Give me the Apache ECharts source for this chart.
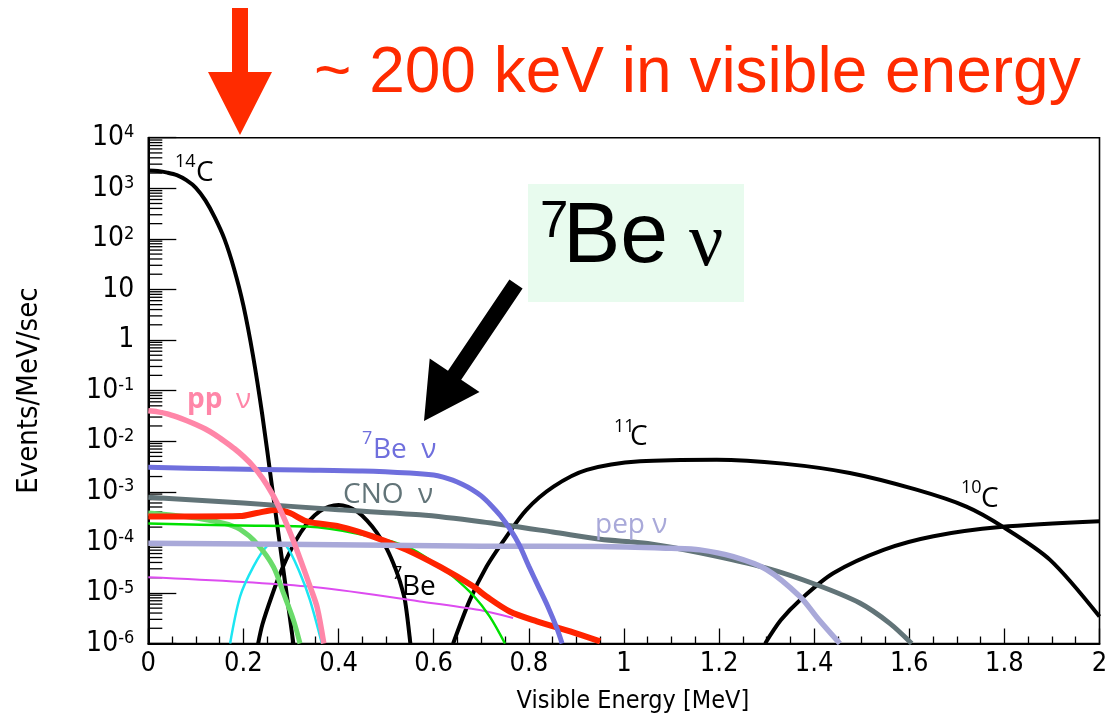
<!DOCTYPE html>
<html><head><meta charset="utf-8">
<script src="https://cdn.jsdelivr.net/npm/echarts@6/dist/echarts.min.js"></script>
<style>html,body{margin:0;padding:0;background:#fff;}#c{width:1113px;height:721px;}</style>
</head><body><div id="c"></div>
<script>
// ---- data (Visible Energy [MeV], Events/MeV/sec) ----
const c14 = [[0,2240],[0.02,2190],[0.04,2040],[0.06,1820],[0.08,1445],[0.1,1023],[0.12,575],[0.14,263],[0.16,100],[0.18,26.3],[0.2,4.79],[0.22,0.50],[0.24,0.0316],[0.26,1.29e-3],[0.28,5.37e-5],[0.3,2.24e-6],[0.305,1e-6]];
const po210 = [[0.231,1e-6],[0.24,2.4e-6],[0.26,8.9e-6],[0.28,2.8e-5],[0.3,7.2e-5],[0.32,1.55e-4],[0.34,2.75e-4],[0.36,4.1e-4],[0.38,5.1e-4],[0.4,5.5e-4],[0.42,5.0e-4],[0.44,4.0e-4],[0.46,2.7e-4],[0.48,1.58e-4],[0.5,7.9e-5],[0.51,5.0e-5],[0.52,2.95e-5],[0.53,1.58e-5],[0.54,6.8e-6],[0.551,1e-6]];
const c11 = [[0.641,1e-6],[0.676,7.2e-6],[0.711,3.3e-5],[0.753,1.3e-4],[0.795,4.4e-4],[0.852,1.26e-3],[0.922,2.7e-3],[1.034,4.0e-3],[1.195,4.3e-3],[1.335,3.6e-3],[1.475,2.35e-3],[1.615,1.1e-3],[1.72,5.1e-4],[1.798,2.0e-4],[1.896,4.5e-5],[2.0,3.4e-6]];
const c10 = [[1.297,1e-6],[1.33,2.9e-6],[1.37,7.2e-6],[1.44,2.45e-5],[1.546,7.1e-5],[1.651,1.32e-4],[1.791,2.0e-4],[2.0,2.6e-4]];
const ppNu = [[0,0.0398],[0.02,0.0380],[0.04,0.0347],[0.06,0.0302],[0.08,0.0257],[0.1,0.0214],[0.12,0.0174],[0.14,0.0135],[0.16,0.0100],[0.18,0.00724],[0.2,0.00501],[0.22,0.00324],[0.24,0.00186],[0.26,9.3e-4],[0.28,3.9e-4],[0.3,1.41e-4],[0.32,4.5e-5],[0.34,1.35e-5],[0.355,5.2e-6],[0.369,1e-6]];
const be7Nu = [[0,3.05e-3],[0.15,2.85e-3],[0.32,2.69e-3],[0.45,2.57e-3],[0.55,2.34e-3],[0.6,2.14e-3],[0.62,1.95e-3],[0.64,1.70e-3],[0.66,1.41e-3],[0.68,1.12e-3],[0.7,8.3e-4],[0.72,5.5e-4],[0.74,3.39e-4],[0.76,1.86e-4],[0.78,8.9e-5],[0.8,3.39e-5],[0.82,1.35e-5],[0.84,5.4e-6],[0.86,1.9e-6],[0.87,1e-6]];
const cnoNu = [[0,7.8e-4],[0.2,6.0e-4],[0.4,4.4e-4],[0.571,3.5e-4],[0.7,2.55e-4],[0.85,1.6e-4],[0.95,1.15e-4],[1.05,9.5e-5],[1.16,6.2e-5],[1.3,3.1e-5],[1.405,1.45e-5],[1.496,6.3e-6],[1.559,2.5e-6],[1.605,1e-6]];
const pepNu = [[0,9.6e-5],[0.5,8.8e-5],[0.7,8.4e-5],[0.95,8.3e-5],[1.1,7.6e-5],[1.16,7.1e-5],[1.23,5.2e-5],[1.3,2.9e-5],[1.37,8.5e-6],[1.41,2.95e-6],[1.454,1e-6]];
const redTot = [[0,3.25e-4],[0.1,3.25e-4],[0.193,3.3e-4],[0.228,3.8e-4],[0.27,4.4e-4],[0.298,3.8e-4],[0.333,2.6e-4],[0.403,2.05e-4],[0.473,1.3e-4],[0.543,7.1e-5],[0.613,3.3e-5],[0.683,1.35e-5],[0.711,8.5e-6],[0.76,4.3e-6],[0.817,2.75e-6],[0.887,1.74e-6],[0.95,1.1e-6]];
const greenA = [[0,2.35e-4],[0.193,2.15e-4],[0.333,2.05e-4],[0.438,1.5e-4],[0.543,8.3e-5],[0.613,3.3e-5],[0.641,2.1e-5],[0.683,9e-6],[0.718,3.4e-6],[0.75,1e-6]];
const greenB = [[0,3.8e-4],[0.08,3.2e-4],[0.158,2.4e-4],[0.193,1.8e-4],[0.228,9.5e-5],[0.263,3.3e-5],[0.284,1e-5],[0.305,2.95e-6],[0.319,1e-6]];
const cyanC = [[0.172,1e-6],[0.193,8.5e-6],[0.221,3.3e-5],[0.249,8.3e-5],[0.27,9.5e-5],[0.291,8.3e-5],[0.319,2.45e-5],[0.34,7.2e-6],[0.365,1e-6]];
const magentaC = [[0,2.05e-5],[0.333,1.35e-5],[0.571,6.8e-6],[0.697,4.6e-6],[0.767,3.2e-6]];
const yMinorTicks = [];
for (let d = -6; d <= 3; d++) for (let m = 2; m <= 9; m++) yMinorTicks.push(m * Math.pow(10, d));

const narrow = '"Liberation Sans Narrow","DejaVu Sans Condensed","Liberation Sans",sans-serif';
const myriad = '"Open Sans","DejaVu Sans",sans-serif';
const helv = '"Liberation Sans",Arial,sans-serif';

function ln(name, data, color, width) {
  return {type:'line', name, data, showSymbol:false, smooth:0.3, silent:true, clip:true,
    lineStyle:{color, width}, itemStyle:{color}};
}

// annotation texts (pixel positions; x = left edge, y = middle)
const texts = [
  ['14',175,161.5,18,'#000','normal',myriad],
  ['C',196,173,28,'#000','normal',myriad],
  ['pp',187,400,28,'#FF86A8','bold',myriad],
  ['ν',236,400,28,'#FF86A8','normal',myriad],
  ['7',362,439,18,'#6F6FDD','normal',myriad],
  ['Be  ν',373,450,28,'#6F6FDD','normal',myriad],
  ['CNO  ν',343,495,28,'#627478','normal',myriad],
  ['pep ν',595,525,28,'#A9A9D9','normal',myriad],
  ['7',392,574,18,'#000','normal',myriad],
  ['Be',402,587,28,'#000','normal',myriad],
  ['11',614,426.5,18,'#000','normal',myriad],
  ['C',630,437.5,28,'#000','normal',myriad],
  ['10',961,488,18,'#000','normal',myriad],
  ['C',981,499,28,'#000','normal',myriad]
];

const chart = echarts.init(document.getElementById('c'), null, {renderer:'canvas'});
const graphic = [
  {type:'polygon', shape:{points:[[232,8],[248,8],[248,72],[272,72],[240,135],[208,72],[232,72]]}, style:{fill:'#FF2B00'}, z:10},
  {type:'text', x:314, y:74, style:{text:'~ 200 keV in visible energy', fontSize:64, fontFamily:helv, fill:'#FF2B00', textAlign:'left', textVerticalAlign:'middle'}, z:10},
  {type:'rect', shape:{x:528,y:184,width:216,height:118}, style:{fill:'#E8FBEE'}, z:5},
  {type:'text', x:540, y:223, style:{text:'7', fontSize:51, fontFamily:helv, fill:'#000', textAlign:'left', textVerticalAlign:'middle'}, z:10},
  {type:'text', x:563, y:238, style:{text:'Be', fontSize:86, fontFamily:helv, fill:'#000', textAlign:'left', textVerticalAlign:'middle'}, z:10},
  {type:'text', x:689, y:245, style:{text:'ν', fontSize:76, fontFamily:'"Liberation Serif","Times New Roman",serif', fill:'#000', textAlign:'left', textVerticalAlign:'middle'}, z:10},
  {type:'polygon', shape:{points:[[522.6,288.5],[461.2,379.8],[479.5,392],[424,421],[429.7,358.6],[448,370.8],[509.4,279.5]]}, style:{fill:'#000'}, z:10}
];
texts.forEach(t => graphic.push({type:'text', x:t[1], y:t[2], style:{text:t[0], fontSize:t[3], fill:t[4], fontWeight:t[5], fontFamily:t[6], textAlign:'left', textVerticalAlign:'middle'}, z:10}));

chart.setOption({
  animation:false,
  backgroundColor:'#fff',
  grid:{left:148.3, right:13.5, top:137.7, bottom:77.5, show:true, borderColor:'#000', borderWidth:1.6, backgroundColor:'transparent'},
  xAxis:{type:'value', min:0, max:2, interval:0.2,
    axisLine:{show:true, lineStyle:{color:'#000', width:2}},
    axisTick:{show:true, inside:true, length:15, lineStyle:{color:'#000', width:1.3}},
    minorTick:{show:true, splitNumber:4, length:7, lineStyle:{color:'#000', width:1.3}},
    splitLine:{show:false},
    axisLabel:{color:'#000', fontSize:27, fontFamily:narrow, margin:7},
    name:'Visible Energy [MeV]', nameLocation:'middle', nameGap:45,
    nameTextStyle:{color:'#000', fontSize:25, fontFamily:narrow, padding:[0,0,0,18]}},
  yAxis:{type:'log', logBase:10, min:1e-6, max:1e4, interval:1,
    axisLine:{show:true, lineStyle:{color:'#000', width:2}},
    axisTick:{show:true, inside:true, length:28, lineStyle:{color:'#000', width:1.3}},
    splitLine:{show:false},
    axisLabel:{margin:14, color:'#000', showMinLabel:true, showMaxLabel:true,
      formatter: v => { const e = Math.round(Math.log10(v)); if (e === 0) return '{b|1}'; if (e === 1) return '{b|10}'; return '{b|10}{s|' + e + '}'; },
      rich:{ b:{fontSize:28, lineHeight:28, fontFamily:narrow, color:'#000', verticalAlign:'bottom'},
             s:{fontSize:18, lineHeight:18, fontFamily:narrow, color:'#000', verticalAlign:'top', padding:[0,0,16,0]} }},
    name:'Events/MeV/sec', nameLocation:'middle', nameGap:104, nameRotate:90,
    nameTextStyle:{color:'#000', fontSize:29, fontFamily:narrow}},
  series:[
    {type:'custom', silent:true, clip:false, data: yMinorTicks.map(v => [0, v]),
      renderItem:(params, api) => { const p = api.coord([api.value(0), api.value(1)]);
        return {type:'line', shape:{x1:p[0], y1:p[1], x2:p[0]+14, y2:p[1]}, style:{stroke:'#000', lineWidth:1.3}}; }},
    ln('14C', c14, '#000', 4),
    ln('210Po', po210, '#000', 4),
    ln('11C', c11, '#000', 4),
    ln('10C', c10, '#000', 4),
    ln('magenta', magentaC, '#DD4CF0', 2),
    ln('cyan', cyanC, '#1CE6F2', 2.5),
    ln('green2', greenB, '#6ADB6A', 5),
    ln('green', greenA, '#00E000', 2.5),
    ln('total', redTot, '#FF2300', 6),
    ln('CNO', cnoNu, '#627478', 5),
    ln('pep', pepNu, '#A9A9D9', 5.5),
    ln('7Be', be7Nu, '#6F6FDD', 5),
    ln('pp', ppNu, '#FF86A8', 5.5)
  ],
  graphic: graphic
});
</script></body></html>
